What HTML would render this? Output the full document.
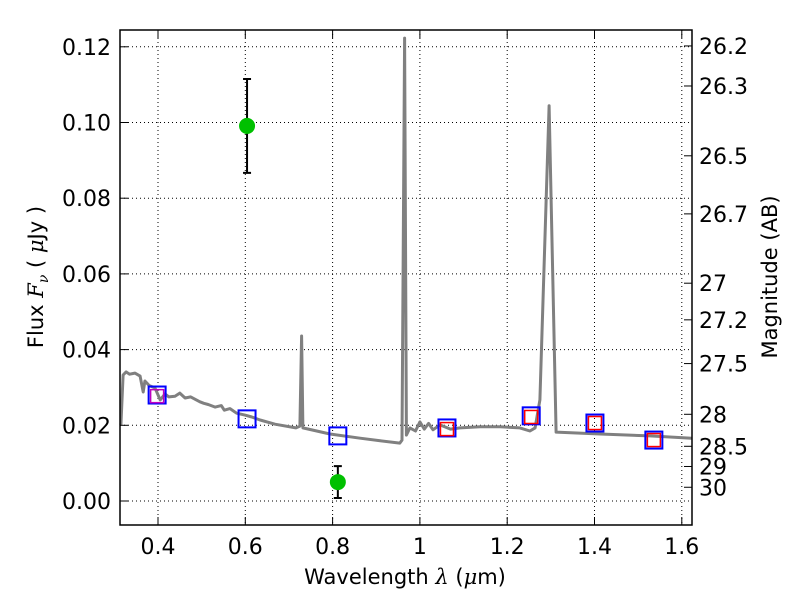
<!DOCTYPE html>
<html><head><meta charset="utf-8"><style>
body{margin:0;background:#fff;}
svg{display:block;font-family:"DejaVu Sans","Liberation Sans",sans-serif;}
</style></head><body>
<svg id="chart" width="800" height="600" viewBox="0 0 800 600">
<rect x="0" y="0" width="800" height="600" fill="#fff"/>
<g id="grid"></g>
<g id="spec"></g>
<g id="filters"></g>
<g id="obs"></g>
<rect x="120" y="30" width="572" height="495" fill="none" stroke="#000" stroke-width="1.5"/>
<g id="axes"></g>
<text x="405" y="584" font-size="21" text-anchor="middle">Wavelength  <tspan font-style="italic" font-family="DejaVu Serif, serif">λ</tspan> (<tspan font-style="italic" font-family="DejaVu Serif, serif">μ</tspan>m)</text>
<text transform="translate(43,277) rotate(-90)" font-size="21" text-anchor="middle">Flux  <tspan font-style="italic" font-family="DejaVu Serif, serif">F</tspan><tspan font-style="italic" font-size="14" dy="5" font-family="DejaVu Serif, serif">ν</tspan><tspan dy="-5">  ( </tspan><tspan font-style="italic" font-family="DejaVu Serif, serif">μ</tspan>Jy )</text>
<text transform="translate(777,277) rotate(-90)" font-size="21" text-anchor="middle">Magnitude (AB)</text>
</svg>
<script>
const xTicks=[0.4,0.6,0.8,1.0,1.2,1.4,1.6];
const xTickLabels=["0.4","0.6","0.8","1","1.2","1.4","1.6"];
const yTicks=[0,0.02,0.04,0.06,0.08,0.10,0.12];
const yTickLabels=["0.00","0.02","0.04","0.06","0.08","0.10","0.12"];
const magTicks=[26.2,26.3,26.5,26.7,27,27.2,27.5,28,28.5,29,30];
const magTickLabels=["26.2","26.3","26.5","26.7","27","27.2","27.5","28","28.5","29","30"];
const specWave=[0.315,0.320,0.327,0.335,0.347,0.359,0.366,0.370,0.380,0.393,0.405,0.416,0.425,0.439,0.450,0.462,0.475,0.496,0.505,0.515,0.531,0.545,0.552,0.565,0.580,0.599,0.615,0.634,0.668,0.716,0.725,0.729,0.732,0.794,0.863,0.909,0.954,0.959,0.965,0.969,0.977,0.990,1.000,1.010,1.020,1.030,1.046,1.070,1.092,1.138,1.184,1.229,1.252,1.264,1.275,1.296,1.312,1.413,1.527,1.623];
const specFlux=[0.0201,0.0333,0.0341,0.0335,0.0338,0.0330,0.0288,0.0317,0.0305,0.0299,0.0267,0.0283,0.0275,0.0277,0.0285,0.0272,0.0275,0.0262,0.0258,0.0255,0.0248,0.0252,0.0240,0.0244,0.0232,0.0227,0.0222,0.0214,0.0203,0.0193,0.0198,0.0436,0.0193,0.0177,0.0166,0.0159,0.0153,0.0161,0.1223,0.0174,0.0193,0.0185,0.0209,0.0190,0.0205,0.0188,0.0201,0.0190,0.0193,0.0196,0.0196,0.0193,0.0185,0.0193,0.0267,0.1044,0.0182,0.0177,0.0172,0.0166];
const filtWave=[0.398,0.604,0.812,1.062,1.255,1.401,1.536];
const filtFlux=[0.0280,0.0217,0.0172,0.0193,0.0225,0.0206,0.0161];
const modelWave=[0.398,1.062,1.255,1.401,1.536];
const modelFlux=[0.0277,0.0190,0.0222,0.0206,0.0161];
const modelColor=["#c000c0","red","red","red","red"];
const obsWave=[0.604,0.812];
const obsFlux=[0.0991,0.0050];
const obsErr=[0.0124,0.0042];

const NS="http://www.w3.org/2000/svg";
const X=w=>158+(w-0.4)*436.5;
const Y=f=>501-f*3785;
function mk(parent,tag,attrs){const e=document.createElementNS(NS,tag);for(const k in attrs)e.setAttribute(k,attrs[k]);document.getElementById(parent).appendChild(e);return e;}

xTicks.forEach((t,i)=>{
  const x=X(t);
  let g=mk('grid','line',{x1:x,x2:x,y1:30,y2:525,stroke:'#000','stroke-width':1,'stroke-dasharray':'1,3'});
  
  
  let a=mk('axes','line',{x1:x,x2:x,y1:525,y2:517,stroke:'#000'});
  
  
  let b=mk('axes','line',{x1:x,x2:x,y1:30,y2:38,stroke:'#000'});
  
  
  let l=mk('axes','text',{x:x,y:554,'font-size':22,'text-anchor':'middle'});
  l.textContent=xTickLabels[i];
  
  
});
yTicks.forEach((t,i)=>{
  const y=Y(t);
  let g=mk('grid','line',{x1:120,x2:692,y1:y,y2:y,stroke:'#000','stroke-width':1,'stroke-dasharray':'1,3'});
  
  
  let a=mk('axes','line',{x1:120,x2:128,y1:y,y2:y,stroke:'#000'});
  
  
  let l=mk('axes','text',{x:111,y:y+8,'font-size':22,'text-anchor':'end'});
  l.textContent=yTickLabels[i];
  
  
});
magTicks.forEach((m,i)=>{
  const y=Y(Math.pow(10,(23.9-m)/2.5));
  let a=mk('axes','line',{x1:684,x2:692,y1:y,y2:y,stroke:'#000'});
  
  
  let l=mk('axes','text',{x:699,y:y+8,'font-size':22,'text-anchor':'start'});
  l.textContent=magTickLabels[i];
  
  
});
let d='';
specWave.forEach((w,i)=>{d+=(i?'L':'M')+X(w).toFixed(1)+','+Y(specFlux[i]).toFixed(1);});
let sp=mk('spec','path',{d:d,fill:'none',stroke:'#808080','stroke-width':3,'stroke-linejoin':'round'});


filtWave.forEach((w,i)=>{
  let r=mk('filters','rect',{x:X(w)-8.5,y:Y(filtFlux[i])-8.5,width:17,height:17,fill:'none',stroke:'blue','stroke-width':2});
  
  
});
modelWave.forEach((w,i)=>{
  let r=mk('filters','rect',{x:X(w)-6.5,y:Y(modelFlux[i])-6.5,width:13,height:13,fill:'none',stroke:modelColor[i],'stroke-width':1.5});
  
  
});
obsWave.forEach((w,i)=>{
  const x=X(w),y1=Y(obsFlux[i]+obsErr[i]),y2=Y(obsFlux[i]-obsErr[i]);
  let e=mk('obs','path',{d:`M${x},${y1}L${x},${y2}M${x-4},${y1}L${x+4},${y1}M${x-4},${y2}L${x+4},${y2}`,stroke:'#000','stroke-width':2,fill:'none'});
  
  
  let c=mk('obs','circle',{cx:x,cy:Y(obsFlux[i]),r:8,fill:'#00c000'});
  
  
});
</script>
</body></html>
